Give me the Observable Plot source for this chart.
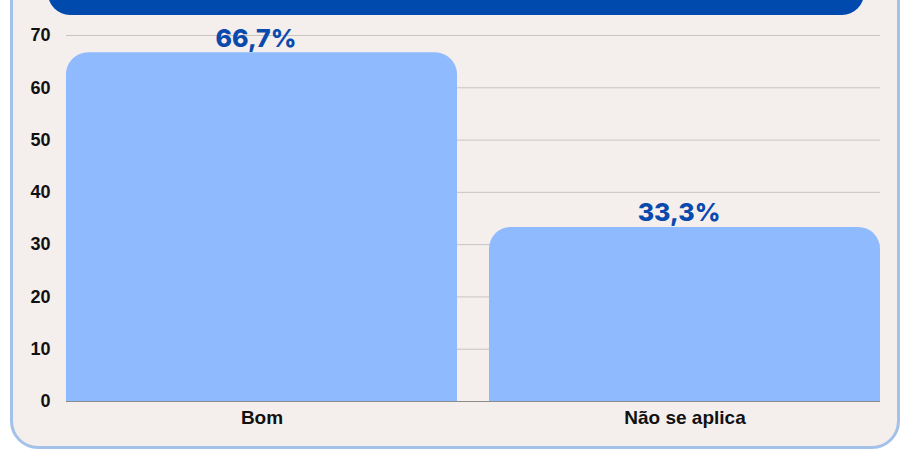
<!DOCTYPE html>
<html>
<head>
<meta charset="utf-8">
<script src="https://cdn.jsdelivr.net/npm/d3@7"></script>
<script src="https://cdn.jsdelivr.net/npm/@observablehq/plot@0.6"></script>
<style>
  html, body { margin: 0; padding: 0; background: #ffffff; }
  #wrap { position: relative; width: 903px; height: 451px; overflow: hidden; }
  #card { position: absolute; left: 10px; top: -30px; width: 890px; height: 479px;
          background: #f4efed; border: 3px solid #a3c1e9; border-radius: 28px; box-sizing: border-box; }
  #banner { position: absolute; left: 48px; top: -30px; width: 816px; height: 45px;
            background: #004aad; border-radius: 0 0 22px 22px; }
  #chart { position: absolute; left: 0; top: 0; }
</style>
</head>
<body>
<div id="wrap">
  <div id="card"></div>
  <div id="banner"></div>
  <div id="chart"></div>
</div>
<script>
const categories = ["Bom", "Não se aplica"];
const values = [66.7, 33.3];
const labels = ["66,7%", "33,3%"];
const yTicks = [0, 10, 20, 30, 40, 50, 60, 70];

const data = categories.map((c, i) => ({ category: c, value: values[i], label: labels[i] }));

const chart = Plot.plot({
  width: 903,
  height: 451,
  marginLeft: 66,
  marginRight: 23,
  marginTop: 35,
  marginBottom: 50,
  style: { background: "transparent", overflow: "visible" },
  x: { domain: categories, paddingInner: 0.076, paddingOuter: 0, label: null },
  y: { domain: [0, 70], ticks: yTicks, label: null },
  marks: [
    Plot.gridY(yTicks.filter(t => t > 0), { stroke: "#c9c4c0", strokeOpacity: 1, strokeWidth: 1 }),
    Plot.ruleY([0], { stroke: "#8c8c8c", strokeWidth: 1 }),
    Plot.barY(data, { x: "category", y: "value", fill: "#8fbafd", rx: 22, insetBottom: -30, clip: true }),
    Plot.text(data, { x: "category", y: "value", text: "label", dy: -14, dx: -6,
      fill: "#0a4aad", fontSize: 25, fontWeight: 800, fontFamily: "Inter, sans-serif" }),
    Plot.axisY({ ticks: yTicks, tickSize: 0, tickPadding: 16, fontSize: 18, fontWeight: "bold",
      fontFamily: "Liberation Sans, Arial, sans-serif", fill: "#111", label: null }),
    Plot.axisX({ tickSize: 0, tickPadding: 9, fontSize: 19, fontWeight: "bold",
      fontFamily: "Liberation Sans, Arial, sans-serif", fill: "#111", label: null })
  ]
});
document.getElementById("chart").appendChild(chart);
</script>
</body>
</html>
